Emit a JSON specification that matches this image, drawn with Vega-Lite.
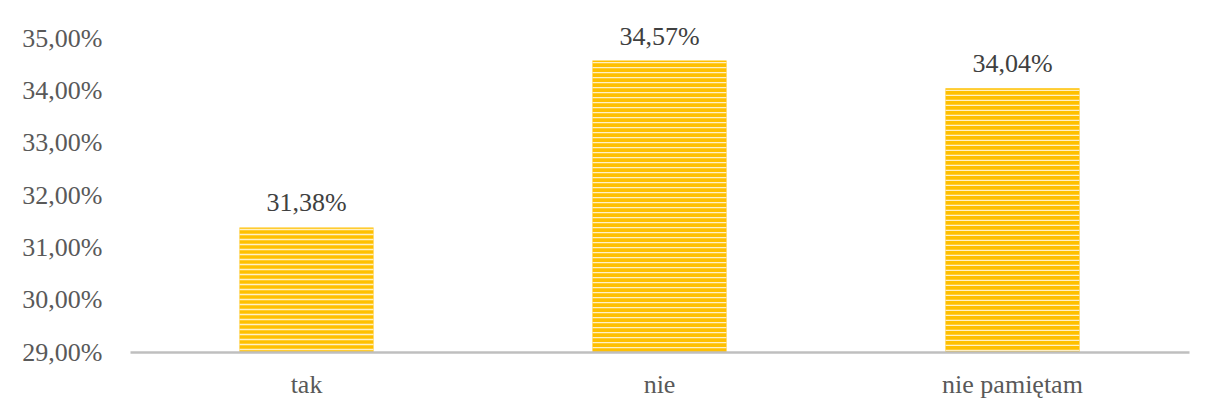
{
  "$schema": "https://vega.github.io/schema/vega-lite/v6.json",
  "width": 1059,
  "height": 314,
  "autosize": {"type": "none"},
  "padding": {"left": 130, "top": 38, "right": 17, "bottom": 55},
  "background": "white",
  "config": {
    "locale": {"number": {"decimal": ",", "thousands": " ", "grouping": [3], "currency": ["", " zł"]}},
    "view": {"stroke": null},
    "font": "Liberation Serif, Times New Roman, serif"
  },
  "data": {
    "values": [
      {"kategoria": "tak", "wartosc": 0.3138},
      {"kategoria": "nie", "wartosc": 0.3457},
      {"kategoria": "nie pamiętam", "wartosc": 0.3404}
    ]
  },
  "encoding": {
    "x": {
      "field": "kategoria",
      "type": "nominal",
      "sort": null,
      "scale": {"paddingInner": 0.62, "paddingOuter": 0.31},
      "axis": {
        "title": null,
        "labelAngle": 0,
        "labelFont": "Liberation Serif, Times New Roman, serif",
        "labelFontSize": 26,
        "labelColor": "#595959",
        "labelBaseline": "alphabetic",
        "labelPadding": 40,
        "ticks": false,
        "tickSize": 0,
        "domain": true,
        "domainColor": "#BFBFBF",
        "domainWidth": 2.5,
        "zindex": 1
      }
    },
    "y": {
      "field": "wartosc",
      "type": "quantitative",
      "scale": {"domain": [0.29, 0.35], "nice": false, "zero": false},
      "axis": {
        "title": null,
        "values": [0.29, 0.30, 0.31, 0.32, 0.33, 0.34, 0.35],
        "format": ".2%",
        "grid": false,
        "domain": false,
        "ticks": false,
        "tickSize": 0,
        "labelFont": "Liberation Serif, Times New Roman, serif",
        "labelFontSize": 26,
        "labelColor": "#595959",
        "labelPadding": 28
      }
    }
  },
  "layer": [
    {
      "mark": {"type": "bar", "color": "#FFC000"},
      "encoding": {"y2": {"datum": 0.29}}
    },
    {
      "mark": {"type": "rule", "color": "#FFF0C4", "strokeWidth": 134, "strokeCap": "butt", "strokeDash": [1.4, 3.6], "strokeDashOffset": 3.6},
      "encoding": {"y2": {"datum": 0.29}}
    },
    {
      "mark": {"type": "text", "baseline": "alphabetic", "dy": -16, "font": "Liberation Serif, Times New Roman, serif", "fontSize": 26, "color": "#404040"},
      "encoding": {"text": {"field": "wartosc", "type": "quantitative", "format": ".2%"}}
    }
  ]
}
